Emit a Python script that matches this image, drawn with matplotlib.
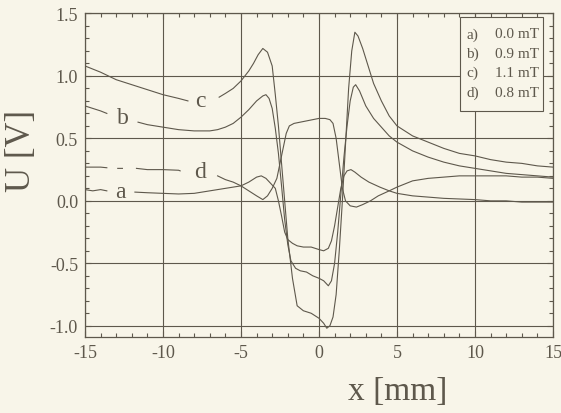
import numpy as np
import matplotlib.pyplot as plt
from matplotlib.patches import Rectangle
from matplotlib.ticker import MultipleLocator

# colours of the scanned page
bg = '#f8f5e9'
ink = '#5e584c'

nan = np.nan

# a) 0.0 mT
x_a = [-15, -14.5, -14, -13.6, nan, -11.8, -11, -10, -9, -8, -7, -6, -5, -4.5, -4, -3.7, -3.4,
       -3.1, -2.8, -2.6, -2.4, -2.2, -2.0, -1.7, -1.4, -1.0, -0.5, 0, 0.3, 0.6, 0.8, 1.0, 1.2,
       1.4, 1.6, 1.8, 2.05, 2.3, 2.7, 3.2, 3.9, 4.5, 5, 6, 7, 8, 9, 10, 11, 12, 13, 14, 15]
u_a = [0.09, 0.08, 0.09, 0.08, nan, 0.07, 0.065, 0.06, 0.055, 0.06, 0.08, 0.10, 0.12, 0.15, 0.19,
       0.20, 0.18, 0.14, 0.10, 0.0, -0.12, -0.25, -0.31, -0.34, -0.36, -0.37, -0.37, -0.39, -0.40,
       -0.38, -0.32, -0.20, -0.05, 0.10, 0.20, 0.24, 0.25, 0.23, 0.19, 0.15, 0.11, 0.08, 0.06,
       0.04, 0.03, 0.02, 0.015, 0.01, 0.0, 0.0, -0.01, -0.01, -0.01]

# b) 0.9 mT
x_b = [-15, -14.5, -14, -13.6, nan, -11.6, -11, -10, -9, -8, -7, -6.5, -6, -5.5, -5, -4.5, -4,
       -3.6, -3.4, -3.2, -3.0, -2.8, -2.6, -2.4, -2.2, -2.0, -1.8, -1.5, -1.2, -0.8, -0.4, 0,
       0.3, 0.6, 0.8, 1.0, 1.2, 1.4, 1.6, 1.8, 2.0, 2.2, 2.35, 2.6, 3.0, 3.5, 4.0, 4.5, 5, 6,
       7, 8, 9, 10, 11, 12, 13, 14, 15]
u_b = [0.76, 0.74, 0.72, 0.70, nan, 0.63, 0.61, 0.59, 0.57, 0.56, 0.56, 0.57, 0.59, 0.62, 0.67,
       0.73, 0.80, 0.84, 0.85, 0.82, 0.74, 0.58, 0.38, 0.12, -0.15, -0.35, -0.48, -0.54, -0.56,
       -0.57, -0.60, -0.62, -0.64, -0.68, -0.64, -0.50, -0.25, 0.05, 0.35, 0.60, 0.80, 0.91,
       0.93, 0.88, 0.76, 0.66, 0.59, 0.52, 0.47, 0.40, 0.35, 0.31, 0.28, 0.26, 0.24, 0.22,
       0.21, 0.20, 0.19]

# c) 1.1 mT
x_c = [-15, -14, -13, -12, -11, -10, -9, -8.4, nan, -6.4, -6, -5.5, -5, -4.5, -4.2, -3.9, -3.6,
       -3.3, -3.0, -2.8, -2.6, -2.4, -2.2, -2.0, -1.7, -1.4, -1.0, -0.5, 0, 0.3, 0.5, 0.7, 0.9,
       1.1, 1.3, 1.5, 1.7, 1.9, 2.1, 2.3, 2.5, 2.8, 3.1, 3.5, 4.0, 4.5, 5.0, 6, 7, 8, 9, 10,
       11, 12, 13, 14, 15]
u_c = [1.08, 1.03, 0.97, 0.93, 0.89, 0.85, 0.82, 0.80, nan, 0.83, 0.86, 0.90, 0.96, 1.04, 1.10,
       1.17, 1.22, 1.19, 1.08, 0.85, 0.60, 0.30, 0.0, -0.30, -0.62, -0.84, -0.88, -0.90, -0.94,
       -0.98, -1.02, -1.00, -0.93, -0.75, -0.40, 0.0, 0.45, 0.90, 1.20, 1.35, 1.32, 1.22, 1.10,
       0.94, 0.80, 0.68, 0.60, 0.52, 0.47, 0.42, 0.38, 0.36, 0.33, 0.31, 0.30, 0.28, 0.27]

# d) 0.8 mT
x_d = [-15, -14.5, -14, -13.6, nan, -12.9, -12.6, nan, -11.7, -11, -10, -9, -8.9, nan, -6.5, -6,
       -5.5, -5, -4.5, -4, -3.6, -3.3, -3.0, -2.7, -2.5, -2.3, -2.1, -1.9, -1.6, -1.2, -0.8,
       -0.4, 0, 0.4, 0.7, 0.9, 1.1, 1.3, 1.5, 1.7, 2.0, 2.4, 2.8, 3.3, 3.8, 4.5, 5, 6, 7, 8, 9,
       10, 11, 12, 13, 14, 15]
u_d = [0.27, 0.27, 0.27, 0.265, nan, 0.26, 0.26, nan, 0.26, 0.25, 0.25, 0.245, 0.24, nan, 0.20,
       0.17, 0.15, 0.12, 0.08, 0.04, 0.01, 0.04, 0.10, 0.18, 0.30, 0.42, 0.54, 0.60, 0.62, 0.63,
       0.64, 0.65, 0.66, 0.66, 0.65, 0.62, 0.50, 0.30, 0.10, 0.0, -0.04, -0.05, -0.03, 0.0,
       0.04, 0.08, 0.11, 0.16, 0.18, 0.19, 0.20, 0.20, 0.20, 0.20, 0.19, 0.19, 0.18]

curve_names = ['a', 'b', 'c', 'd']
label_pos = [(-12.7, 0.075), (-12.6, 0.665), (-7.6, 0.80), (-7.6, 0.235)]
legend_labels = ['a)', 'b)', 'c)', 'd)']
legend_values = ['0.0 mT', '0.9 mT', '1.1 mT', '0.8 mT']

plt.rcParams['font.family'] = ['Liberation Serif', 'DejaVu Serif']

fig = plt.figure(figsize=(5.61, 4.14), dpi=100, facecolor=bg)
ax = fig.add_axes([0.1515, 0.1836, 0.8342, 0.7814])
ax.set_facecolor(bg)

for xs, us in [(x_a, u_a), (x_b, u_b), (x_c, u_c), (x_d, u_d)]:
    ax.plot(xs, us, color=ink, lw=0.8, zorder=3)

for name, (lx, ly) in zip(curve_names, label_pos):
    ax.text(lx, ly, name, color=ink, fontsize=17, ha='center', va='center', zorder=4)

ax.set_xlim(-15, 15)
ax.set_ylim(-1.09, 1.5)
ax.set_xticks([-15, -10, -5, 0, 5, 10, 15])
ax.set_yticks([-1.0, -0.5, 0.0, 0.5, 1.0, 1.5])
ax.set_yticklabels(['-1.0', '-0.5', '0.0', '0.5', '1.0', '1.5'])
ax.set_xticklabels(['-15', '-10', '-5', '0', '5', '10', '15'])
ax.xaxis.set_minor_locator(MultipleLocator(1))
ax.yaxis.set_minor_locator(MultipleLocator(0.1))
ax.grid(True, which='major', color=ink, lw=0.8, zorder=1)
ax.set_axisbelow(True)
ax.tick_params(which='both', direction='in', top=True, right=True, colors=ink,
               labelsize=13, width=0.8)
ax.tick_params(which='major', length=4, pad=5)
ax.tick_params(which='minor', length=3)
for s in ax.spines.values():
    s.set_color(ink)
    s.set_linewidth(0.9)

ax.set_ylabel('U [V]', fontsize=25, color=ink)
ax.yaxis.set_label_coords(-0.10, 0.577)
ax.set_xlabel('x [mm]', fontsize=24, color=ink)
ax.xaxis.set_label_coords(0.668, -0.12)

# legend box drawn by hand
ax.add_patch(Rectangle((9.04, 0.72), 5.32, 0.752, facecolor=bg, edgecolor=ink,
                       lw=0.8, zorder=5))
for i, (lab, val) in enumerate(zip(legend_labels, legend_values)):
    yy = 1.336 - i * 0.155
    ax.text(9.45, yy, lab, fontsize=11, color=ink, ha='left', va='center', zorder=6)
    ax.text(14.1, yy, val, fontsize=11, color=ink, ha='right', va='center', zorder=6)

fig.savefig('out.png', dpi=100, facecolor=bg)
